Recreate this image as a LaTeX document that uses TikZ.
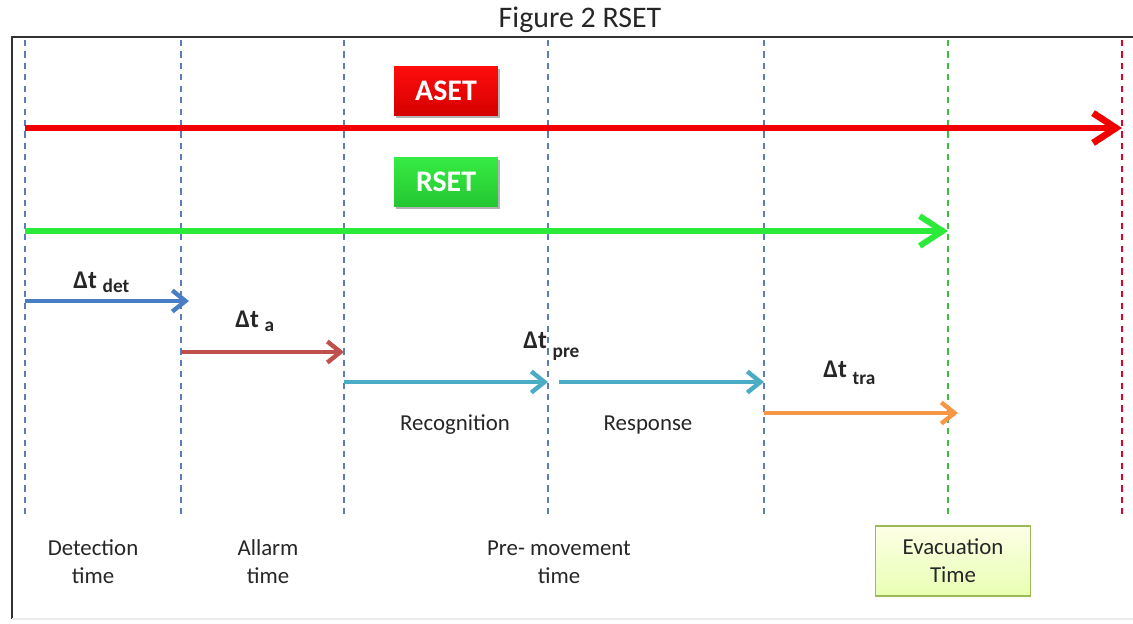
\documentclass[tikz,border=0pt]{standalone}
\usepackage{fontspec}
\setmainfont{Carlito}
\usetikzlibrary{positioning,arrows.meta,shadows}

\definecolor{markblue}{HTML}{5B7DB8}
\definecolor{markgreen}{HTML}{3DBE3D}
\definecolor{markred}{HTML}{E0002A}
\definecolor{asetred}{HTML}{F20000}
\definecolor{rsetgreen}{HTML}{2BEA3A}
\definecolor{detblue}{HTML}{4A7EC4}
\definecolor{alarmred}{HTML}{C0504D}
\definecolor{precyan}{HTML}{4BACC6}
\definecolor{traorange}{HTML}{F79646}
\definecolor{evacline}{HTML}{9BBB59}

\newcommand{\dtlab}[2][2.8pt]{\textbf{Δt} \raisebox{-#1}{\fontsize{11}{13}\selectfont\textbf{#2}}}

\tikzset{
  marker/.style={dashed, dash pattern=on 3.5pt off 3pt, line width=0.6pt},
  bigarrow/.style={line width=3.8pt, -{Straight Barb[length=13pt, width=17pt]}},
  smallarrow/.style={line width=2.5pt, -{Straight Barb[length=7.5pt, width=12pt]}},
  setbox/.style={minimum width=2.08cm, minimum height=0.98cm, text=white,
    font=\fontsize{17}{20}\selectfont\bfseries,
    drop shadow={shadow xshift=1.2pt, shadow yshift=-1.2pt, opacity=0.6}},
  note/.style={align=center, font=\fontsize{13}{16}\selectfont, text=black!85},
  dtnote/.style={anchor=base west, inner sep=0pt, font=\fontsize{14.5}{16}\selectfont, text=black!85},
}

\begin{document}
\begin{tikzpicture}[x=0.02cm, y=-0.02cm]
	\useasboundingbox (0,0) rectangle (1133,623);
	% frame and title
	\draw[black!80, line width=0.8pt] (1133,37) -- (12,37) -- (12,619);
	\draw[black!8, line width=0.6pt] (12,619) -- (1133,619);
	\node[font=\fontsize{17}{20}\selectfont, text=black!85] (title) at (580,20) {Figure 2 RSET};

	% time marks
	\foreach \n/\x/\c in {det/25/markblue, alarm/181/markblue, rec/344/markblue, resp/548/markblue,
	                      tra/764/markblue, rset/948/markgreen, aset/1122/markred} {
		\coordinate (\n-top) at (\x,40);
		\coordinate (\n-bot) at (\x,518);
		\draw[marker, \c] (\n-top) -- (\n-bot);
	}

	% ASET and RSET
	\node[setbox, top color=red!95!white, bottom color=asetred!88!black] (asetbox) at (446,91) {ASET};
	\node[setbox, top color=rsetgreen!95!white, bottom color=rsetgreen!85!black] (rsetbox) at (446,182) {RSET};
	\coordinate (aset-s) at (25,128);
	\coordinate (aset-e) at (1122,128);
	\coordinate (rset-s) at (25,231);
	\coordinate (rset-e) at (948,231);
	\draw[bigarrow, asetred] (aset-s) -- (aset-e);
	\draw[bigarrow, rsetgreen, line width=3.4pt] (rset-s) -- (rset-e);

	% partial times
	\coordinate (det-s) at (25,301);
	\coordinate (det-e) at (189,301);
	\coordinate (a-s) at (181,352);
	\coordinate (a-e) at (344,352);
	\coordinate (rec-s) at (344,382);
	\coordinate (rec-e) at (548,382);
	\coordinate (resp-s) at (559,382);
	\coordinate (resp-e) at (764,382);
	\coordinate (tra-s) at (764,413);
	\coordinate (tra-e) at (958,413);
	\draw[smallarrow, detblue   ] (det-s) -- (det-e);
	\draw[smallarrow, alarmred  ] (a-s) -- (a-e);
	\draw[smallarrow, precyan   ] (rec-s) -- (rec-e);
	\draw[smallarrow, precyan   ] (resp-s) -- (resp-e);
	\draw[smallarrow, traorange ] (tra-s) -- (tra-e);

	\node[dtnote] (dtdet) at (73,288) {\dtlab{det}};
	\node[dtnote] (dta) at (235,327) {\dtlab{a}};
	\node[dtnote] (dtpre) at (523,348) {\dtlab[5.5pt]{pre}};
	\node[dtnote] (dttra) at (823,377) {\dtlab[4.5pt]{tra}};

	\node[note] (recog) at (455,425) {Recognition};
	\node[note] (respond) at (648,425) {Response};

	% bottom labels
	\node[note] (detect) at (93,562) {Detection\\time};
	\node[note] (allarm) at (268,562) {Allarm\\time};
	\node[note] (premove) at (559,562) {Pre- movement\\time};
	\node[note, draw=evacline, line width=1pt, top color=green!8!yellow!10, bottom color=green!30!yellow!30,
	      minimum width=3.1cm, minimum height=1.4cm] (evac) at (953,561) {Evacuation\\Time};
\end{tikzpicture}
\end{document}
